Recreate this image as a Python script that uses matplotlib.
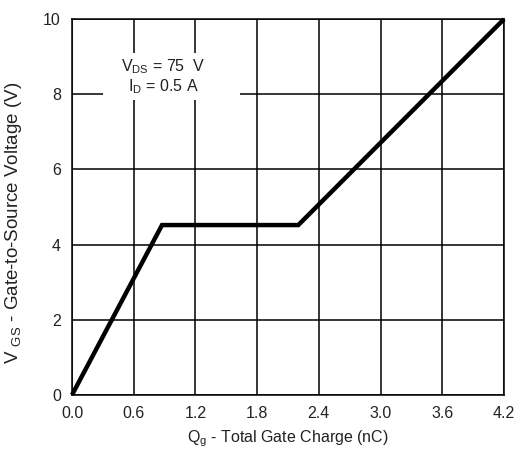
import matplotlib
matplotlib.use("Agg")
from matplotlib import pyplot as plt
from matplotlib.patches import Rectangle

plt.rcParams['font.family'] = ['Liberation Sans', 'DejaVu Sans']

# gate charge curve (nC, V)
qg = [0.0, 0.875, 2.2, 4.2]
vgs = [0.0, 4.52, 4.52, 10.0]

x_ticks = [0.0, 0.6, 1.2, 1.8, 2.4, 3.0, 3.6, 4.2]
y_ticks = [0, 2, 4, 6, 8, 10]

fig = plt.figure(figsize=(5.18, 4.55), dpi=100)
ax = fig.add_axes([0.139, 0.132, 0.834, 0.826])

ax.plot(qg, vgs, color="black", linewidth=3.2, solid_capstyle="butt",
        solid_joinstyle="miter", zorder=3, clip_on=False)

ax.set_xlim(0, 4.2)
ax.set_ylim(0, 10)
ax.set_xticks(x_ticks)
ax.set_xticklabels([f"{t:.1f}" for t in x_ticks])
ax.set_yticks(y_ticks)
ax.grid(True, color="black", linewidth=1.1)
ax.tick_params(length=0, labelsize=11.5, colors="#222222", pad=8)
for s in ax.spines.values():
    s.set_linewidth(1.1)

# white patch behind the conditions text (covers grid lines)
ax.add_patch(Rectangle((0.30, 7.85), 1.33, 1.25, facecolor="white",
                       edgecolor="none", zorder=2.5))
ax.text(0.89, 8.47, "V$_{\\mathregular{DS}}$ = 75  V\nI$_{\\mathregular{D}}$ = 0.5 A",
        fontsize=11.5, color="#222222", ha="center", va="center",
        linespacing=1.15, zorder=4)

ax.set_xlabel("Q$_{\\mathregular{g}}$ - Total Gate Charge (nC)", fontsize=11.5,
              color="#222222", labelpad=5)
ax.set_ylabel("V $_{\\mathregular{GS}}$ - Gate-to-Source Voltage (V)", fontsize=13.5,
              color="#222222")
ax.yaxis.set_label_coords(-0.11, 0.457)

fig.savefig("out.png", dpi=100)
